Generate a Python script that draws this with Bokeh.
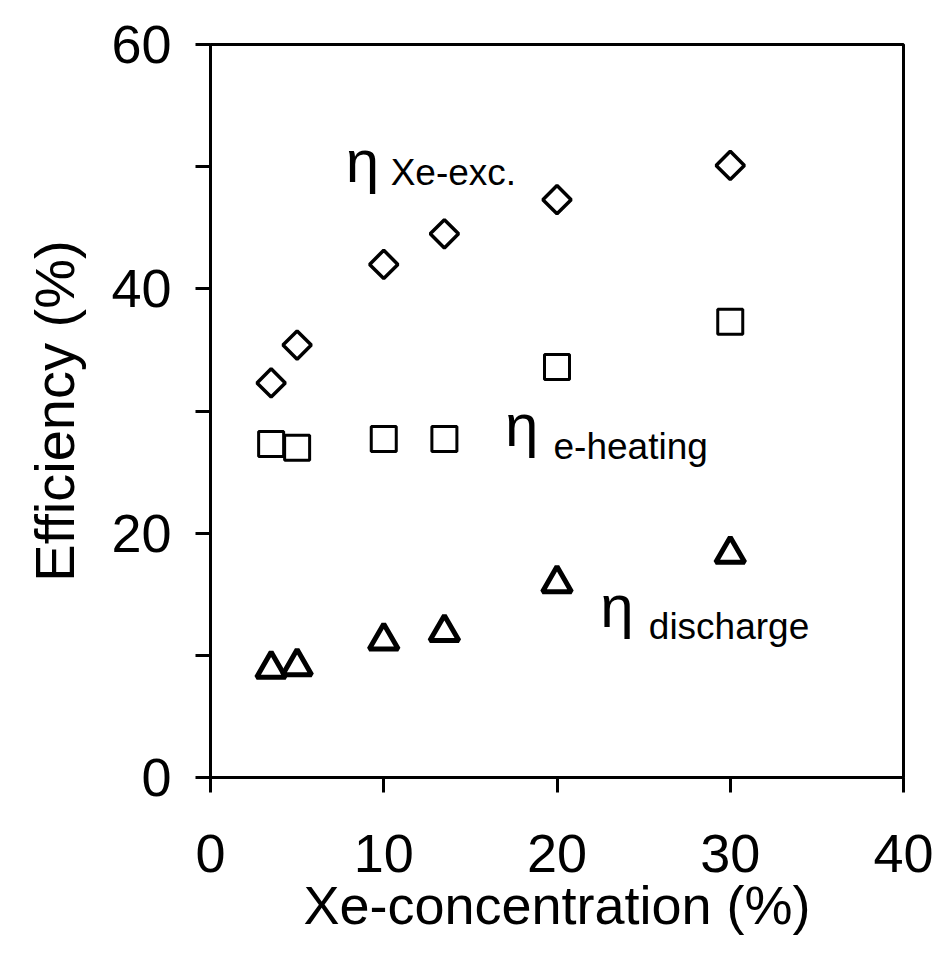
from bokeh.plotting import figure
from bokeh.models import Range1d, FixedTicker
from bokeh.core.properties import value
from bokeh.embed import file_html
from bokeh.resources import INLINE
import math

# Data
xe_conc = [3.5, 5, 10, 13.5, 20, 30]
eta_xe_exc = [32.3, 35.4, 42.0, 44.5, 47.3, 50.1]
eta_e_heating = [27.3, 27.0, 27.7, 27.7, 33.6, 37.3]
eta_discharge = [8.9, 9.1, 11.2, 11.9, 15.9, 18.3]

x_ticks = [0, 10, 20, 30, 40]
y_ticks = [0, 10, 20, 30, 40, 50, 60]
y_tick_labels = {10: "", 30: "", 50: ""}

# annotation labels (η + subscript) in data coordinates
sub_text = ["Xe-exc.", "e-heating", "discharge"]
eta_x = [7.8, 17.0, 22.5]
eta_y = [50.4, 28.8, 14.0]
sub_x = [10.4, 19.8, 25.3]
sub_y = [49.5, 27.1, 12.4]

FONT = "Liberation Sans"

p = figure(width=940, height=971, output_backend="svg", toolbar_location=None,
           x_range=Range1d(0, 40), y_range=Range1d(0, 60),
           min_border_left=210, min_border_right=37, min_border_top=44,
           min_border_bottom=194)
p.background_fill_color = "white"
p.border_fill_color = "white"
p.xgrid.visible = False
p.ygrid.visible = False
p.outline_line_color = "black"
p.outline_line_width = 3
p.outline_line_alpha = 1.0

for ax in (p.xaxis[0], p.yaxis[0]):
    ax.axis_line_width = 3
    ax.axis_line_color = "black"
    ax.major_tick_line_width = 3
    ax.major_tick_line_color = "black"
    ax.major_tick_out = 15
    ax.major_tick_in = 0
    ax.minor_tick_line_color = None
    ax.major_label_text_font = FONT
    ax.major_label_text_font_size = "54px"
    ax.major_label_text_color = "black"
    ax.axis_label_text_font = FONT
    ax.axis_label_text_font_style = "normal"
    ax.axis_label_text_color = "black"

p.xaxis.ticker = FixedTicker(ticks=x_ticks)
p.yaxis.ticker = FixedTicker(ticks=y_ticks)
p.yaxis.major_label_overrides = y_tick_labels
p.xaxis.axis_label = "Xe-concentration (%)"
p.yaxis.axis_label = "Efficiency (%)"
p.xaxis.axis_label_text_font_size = "54px"
p.yaxis.axis_label_text_font_size = "56px"
p.xaxis.major_label_standoff = 42
p.yaxis.major_label_standoff = 24
p.xaxis.axis_label_standoff = 0
p.yaxis.axis_label_standoff = 22

# markers
p.scatter(xe_conc, eta_xe_exc, marker="square", size=20, angle=math.pi / 4,
          fill_color=None, line_color="black", line_width=3.5)
p.scatter(xe_conc, eta_e_heating, marker="square", size=25,
          fill_color=None, line_color="black", line_width=3)
p.scatter(xe_conc, eta_discharge, marker="triangle", size=29,
          fill_color=None, line_color="black", line_width=5)

# labels
p.text(eta_x, eta_y, text=["η", "η", "η"], text_font=value(FONT),
       text_font_size="60px", text_align="left", text_baseline="alphabetic",
       text_color="black")
p.text(sub_x, sub_y, text=sub_text, text_font=value(FONT),
       text_font_size="37px", text_align="left", text_baseline="alphabetic",
       text_color="black")

open("out.html", "w").write(file_html(p, INLINE))
